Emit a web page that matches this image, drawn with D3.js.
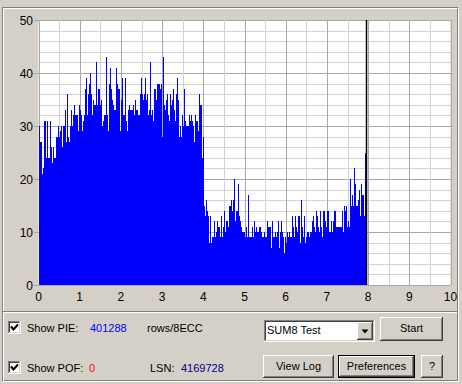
<!DOCTYPE html>
<html>
<head>
<meta charset="utf-8">
<script src="https://cdn.jsdelivr.net/npm/d3@7"></script>
<style>
  body { margin: 0; background: #d4d0c8; }
  svg text { font-family: "Liberation Sans", Arial, sans-serif; }
</style>
</head>
<body>
<div id="chart"></div>
<script>
// PIE error counts per sample (0 .. scanEnd GB)
const pie = [
  30,27,27,21,22,31,31,24,31,24, 24,31,26,23,26,24,24,28,28,30,
  28,29,30,26,30,30,33,27,36,28, 27,30,33,30,32,34,32,32,32,29,
  34,33,32,29,31,32,37,39,32,36, 38,40,36,32,35,34,34,42,34,37,
  37,34,35,30,31,32,32,43,32,29, 38,41,37,35,34,33,33,41,38,37,
  37,29,35,39,
  32,32,39,31,29,33,34,33,33,33, 34,32,35,33,33,32,32,36,39,36,
  35,36,39,35,36,32,33,42,32,33, 31,37,37,35,38,38,38,37,38,28,
  43,34,33,35,36,32,31,36,34,35, 37,33,31,36,39,35,28,30,28,32,
  30,37,31,30,30,30,32,31,32,31, 30,27,32,31,31,29,36,34,34,24,
  28,
  15,13,16,14,13,8,13,8,9,9, 12,9,10,12,11,11,9,13,9,11,
  14,10,12,12,11,15,15,16,14,16, 20,12,14,14,19,13,12,11,10,10,
  10,9,11,9,17,9,9,11,9,12, 10,11,10,10,11,11,10,9,9,10,
  9,9,12,11,11,11,7,12,9,9, 10,9,10,12,7,10,12,10,9,6,
  9,8,10,9,10,9,9,13,11,9, 13,11,10,13,13,8,16,11,9,13,
  8,9,10,10,9,10,10,12,13,11, 10,14,13,11,10,14,11,9,14,14,
  12,11,14,14,10,10,12,10,12,14, 14,11,11,11,11,11,11,14,10,15,
  14,15,11,12,11,20,15,17,15,22, 19,15,15,16,18,13,19,17,17,13,
  25
];
const scanEnd = 7.95;
const xTicks = [0,1,2,3,4,5,6,7,8,9,10];
const yTicks = [0,10,20,30,40,50];
const pieCount = "401288";
const pofCount = "0";
const lsn = "4169728";

const W = 462, H = 384;
const face = "#d4d0c8", shadow = "#808080", dark = "#404040";

const svg = d3.select("#chart").append("svg")
  .attr("width", W).attr("height", H);
svg.append("rect").attr("width", W).attr("height", H).attr("fill", face);

const x = d3.scaleLinear().domain([0, 10]).range([38.5, 450.5]);
const y = d3.scaleLinear().domain([0, 50]).range([285, 20]);
const px = v => Math.round(v) + 0.5;

// plot background
svg.append("rect")
  .attr("x", x(0)).attr("y", y(50))
  .attr("width", x(10) - x(0)).attr("height", y(0) - y(50))
  .attr("fill", "#fff");

// grid
const grid = svg.append("g").attr("shape-rendering", "crispEdges");
d3.range(0, 50.1, 2).forEach(v => {
  const major = v % 10 === 0;
  grid.append("line")
    .attr("x1", major ? 34 : x(0)).attr("x2", x(10))
    .attr("y1", px(y(v))).attr("y2", px(y(v)))
    .attr("stroke", major ? "#a8a8a8" : "#d2d2d2");
});
d3.range(0, 10.01, 0.5).forEach(v => {
  const major = v % 1 === 0;
  grid.append("line")
    .attr("x1", px(x(v))).attr("x2", px(x(v)))
    .attr("y1", y(50)).attr("y2", y(0))
    .attr("stroke", major ? "#a8a8a8" : "#d2d2d2");
});

// PIE histogram
const step = scanEnd / pie.length;
const pts = pie.map((v, i) => [i * step, v]);
pts.push([scanEnd, pie[pie.length - 1]]);
const area = d3.area()
  .x(d => Math.round(x(d[0])))
  .y0(y(0))
  .y1(d => Math.round(y(d[1])))
  .curve(d3.curveStepAfter);
svg.append("path").datum(pts)
  .attr("d", area)
  .attr("fill", "#0000ff")
  .attr("shape-rendering", "crispEdges");

// end of scan marker
svg.append("line")
  .attr("x1", px(x(scanEnd))).attr("x2", px(x(scanEnd)))
  .attr("y1", y(50)).attr("y2", y(0))
  .attr("stroke", "#000").attr("stroke-width", 1.5);

// axis labels
svg.selectAll(".yl").data(yTicks).enter().append("text")
  .attr("x", 33).attr("y", d => y(d) + 4.5)
  .attr("text-anchor", "end").attr("font-size", 12)
  .text(d => d);
svg.selectAll(".xl").data(xTicks).enter().append("text")
  .attr("x", d => x(d)).attr("y", 301)
  .attr("text-anchor", "middle").attr("font-size", 12)
  .text(d => d);

// window chrome helpers
function bevel(g, bx, by, w, h, tl, br) {
  g.append("path").attr("fill", "none").attr("stroke", tl)
    .attr("d", `M${bx + 0.5},${by + h - 1}V${by + 0.5}H${bx + w - 1}`);
  g.append("path").attr("fill", "none").attr("stroke", br)
    .attr("d", `M${bx},${by + h - 0.5}H${bx + w - 0.5}V${by}`);
}
function button(bx, by, w, h, label, isDefault) {
  const g = svg.append("g").attr("shape-rendering", "crispEdges");
  if (isDefault) {
    g.append("rect").attr("x", bx + 0.5).attr("y", by + 0.5)
      .attr("width", w - 1).attr("height", h - 1)
      .attr("fill", "none").attr("stroke", "#000");
    bx += 1; by += 1; w -= 2; h -= 2;
  }
  g.append("rect").attr("x", bx).attr("y", by).attr("width", w).attr("height", h).attr("fill", face);
  bevel(g, bx, by, w, h, "#fff", dark);
  bevel(g, bx + 1, by + 1, w - 2, h - 2, face, shadow);
  if (label) {
    svg.append("text").attr("x", bx + w / 2).attr("y", by + h / 2 + 3)
      .attr("text-anchor", "middle").attr("font-size", 11).text(label);
  }
  return g;
}
function sunken(bx, by, w, h) {
  const g = svg.append("g").attr("shape-rendering", "crispEdges");
  g.append("rect").attr("x", bx).attr("y", by).attr("width", w).attr("height", h).attr("fill", "#fff");
  bevel(g, bx, by, w, h, shadow, "#fff");
  bevel(g, bx + 1, by + 1, w - 2, h - 2, dark, face);
  return g;
}
function checkbox(bx, by) {
  sunken(bx, by, 13, 13);
  svg.append("path").attr("fill", "none").attr("stroke", "#000").attr("stroke-width", 2)
    .attr("d", `M${bx + 3},${by + 5.5}L${bx + 5.5},${by + 8.5}L${bx + 10},${by + 3.5}`);
}
function label(tx, ty, t, color) {
  svg.append("text").attr("x", tx).attr("y", ty)
    .attr("font-size", 11).attr("fill", color || "#000").text(t);
}

// etched frame and separator
const fr = svg.append("g").attr("shape-rendering", "crispEdges").attr("fill", "none");
fr.append("rect").attr("x", 2.5).attr("y", 7.5).attr("width", 455).attr("height", 373).attr("stroke", shadow);
fr.append("rect").attr("x", 3.5).attr("y", 8.5).attr("width", 455).attr("height", 373).attr("stroke", "#fff");
fr.append("line").attr("x1", 3).attr("x2", 457).attr("y1", 311.5).attr("y2", 311.5).attr("stroke", shadow);
fr.append("line").attr("x1", 3).attr("x2", 457).attr("y1", 312.5).attr("y2", 312.5).attr("stroke", "#fff");

// controls
checkbox(8, 321);
label(27, 332, "Show PIE:");
label(90, 332, pieCount, "#0000ff");
label(147, 332, "rows/8ECC");
checkbox(8, 361);
label(27, 372, "Show POF:");
label(89, 372, pofCount, "#ff0000");
label(150, 372, "LSN:");
label(181, 372, lsn, "#000080");

sunken(264, 320, 111, 22);
label(267, 334, "SUM8 Test");
button(357, 322, 16, 18);
svg.append("path").attr("fill", "#000")
  .attr("d", "M361.5,329.5H368.5L365,333.5Z");

button(380, 317, 63, 24, "Start");
button(263, 355, 71, 23, "View Log");
button(338, 355, 77, 23, "Preferences", true);
button(421, 355, 22, 23, "?");
</script>
</body>
</html>
